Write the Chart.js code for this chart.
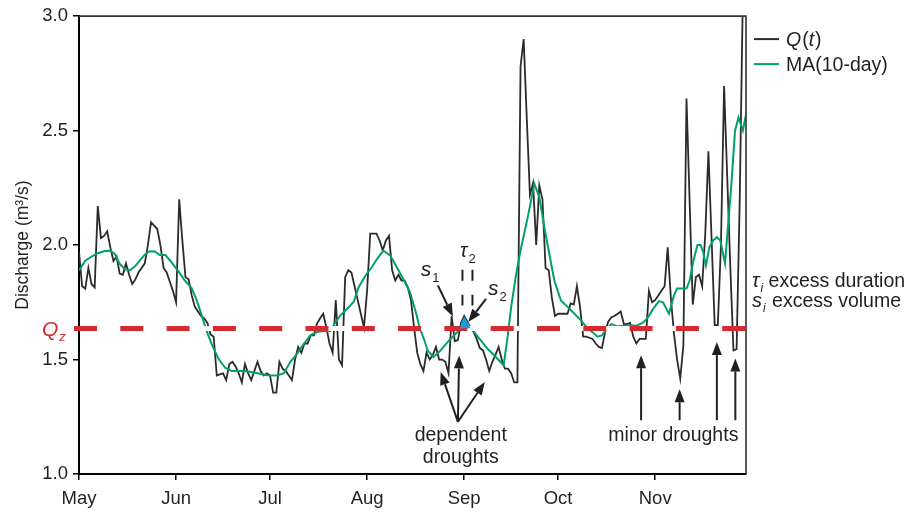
<!DOCTYPE html>
<html>
<head>
<meta charset="utf-8">
<style>
html,body{margin:0;padding:0;background:#fff;}
#wrap{width:912px;height:512px;position:relative;}
</style>
<script src="https://cdn.jsdelivr.net/npm/chart.js@4.4.1/dist/chart.umd.min.js"></script>
</head>
<body>
<div id="wrap"><canvas id="c" width="912" height="512"></canvas></div>
<script>
// ---------- DATA ----------
// Daily discharge Q(t), day 0 = 1 May ... day 213 = 30 Nov
const qValues = [
  1.97,1.82,1.81,1.90,1.83,1.815,2.17,2.03,2.04,2.06,
  1.99,1.93,1.95,1.875,1.87,1.92,1.87,1.83,1.85,1.88,
  1.90,1.92,2.00,2.10,2.085,2.07,2.00,1.90,1.88,1.84,
  1.80,1.75,2.20,2.02,1.86,1.85,1.78,1.73,1.71,1.69,
  1.68,1.66,1.61,1.60,1.43,1.435,1.44,1.41,1.48,1.49,
  1.47,1.44,1.40,1.48,1.44,1.41,1.45,1.49,1.45,1.43,
  1.44,1.43,1.355,1.355,1.49,1.46,1.45,1.43,1.41,1.50,
  1.555,1.53,1.57,1.57,1.606,1.606,1.657,1.68,1.70,1.64,
  1.57,1.53,1.76,1.50,1.475,1.86,1.89,1.88,1.82,1.76,
  1.70,1.64,1.80,2.05,2.05,2.05,2.02,1.976,2.02,2.04,
  1.89,1.845,1.87,1.845,1.845,1.816,1.76,1.64,1.53,1.48,
  1.45,1.53,1.50,1.52,1.555,1.50,1.50,1.49,1.44,1.69,
  1.58,1.585,1.66,1.69,1.665,1.638,1.62,1.59,1.55,1.54,
  1.50,1.45,1.49,1.52,1.555,1.50,1.46,1.46,1.44,1.40,
  1.40,2.78,2.90,2.55,2.22,2.27,2.00,2.26,2.20,1.90,
  1.89,1.77,1.69,1.70,1.70,1.70,1.70,1.745,1.74,1.82,
  1.73,1.60,1.60,1.595,1.59,1.57,1.555,1.55,1.62,1.665,
  1.685,1.69,1.70,1.71,1.655,1.655,1.66,1.60,1.57,1.59,
  1.59,1.59,1.80,1.75,1.76,1.78,1.80,1.82,1.99,1.77,
  1.613,1.50,1.417,1.56,2.64,2.19,1.74,1.86,1.87,1.82,
  2.05,2.41,2.03,1.65,1.65,2.00,2.695,2.30,1.90,1.54,
  1.545,2.20,3.10,3.20
];
const qDays = qValues.map((v, i) => i);

// 10-day moving average
const maDays = [0,2,4,6,8,10,11.5,13,14.6,16.2,17.8,19.4,21,22.6,24.2,25.8,27.6,29.5,31.7,33.8,
  35.9,37.2,38.3,39.7,40.7,42.3,44.5,46.6,48.7,51,53,55,57,60,63.3,65.4,67.5,69.7,71.8,73.9,
  76,78.2,80.3,81.9,83.5,85.6,87.7,89.3,91.5,93.5,95.2,97.2,99.4,101.5,103.5,105.7,107.7,108.7,110.3,111.3,
  113.2,115.5,117.7,119.8,121.9,124.1,126.2,128.3,130.4,133.1,135.6,136.7,138,139.6,141.2,143.3,145.4,147,148.6,150.2,
  151.8,153.9,156.1,158.2,160.3,162.5,164.6,165.5,167,168.5,170,172,174,176,178,180,181.5,183.3,185.2,186.5,
  188.4,190,191,193,194,195,196.2,197.5,198.5,199.3,200.2,201.3,202.5,203.7,204.8,206.3,207.3,208.3,209.5,210.6,
  212,213];
const maValues = [1.889,1.932,1.95,1.964,1.973,1.976,1.96,1.918,1.896,1.889,1.906,1.932,1.958,1.973,1.972,1.956,1.956,1.925,1.886,1.845,
  1.813,1.773,1.73,1.671,1.627,1.569,1.504,1.465,1.45,1.45,1.45,1.446,1.44,1.431,1.43,1.44,1.49,1.526,1.569,1.606,
  1.62,1.625,1.625,1.664,1.693,1.722,1.751,1.816,1.867,1.903,1.94,1.976,1.954,1.903,1.853,1.794,1.70,1.642,1.584,1.54,
  1.511,1.54,1.576,1.606,1.635,1.657,1.62,1.584,1.548,1.511,1.475,1.58,1.729,1.874,1.99,2.121,2.267,2.21,2.078,1.96,
  1.845,1.758,1.729,1.70,1.671,1.635,1.613,1.60,1.605,1.635,1.655,1.645,1.648,1.65,1.648,1.66,1.68,1.72,1.755,1.75,
  1.70,1.78,1.81,1.81,1.81,1.845,1.93,2.0,2.0,1.97,1.91,1.99,2.02,2.035,2.02,1.92,2.09,2.26,2.50,2.557,
  2.50,2.57];

const QZ = 1.635;                       // drought threshold Qz
const s2Days = [121,122,123,124,125,126]; // excess event s2 (days)
const monthTickDays = [0,31,61,92,123,153,184];
const monthLabels = ['May','Jun','Jul','Aug','Sep','Oct','Nov'];
const yTickValues = [1.0,1.5,2.0,2.5,3.0];

// ---------- STYLE ----------
const FONT = "'Liberation Sans', Arial, Helvetica, sans-serif";
const TXT = '#231f20';
const BLACK = '#2b2b2b';
const GREEN = '#00a06c';
const RED = '#d62a31';
const BLUE = '#1e9ad6';

const qPoints = qDays.map((d, i) => ({x: d, y: qValues[i]}));
const maPoints = maDays.map((d, i) => ({x: d, y: maValues[i]}));
const s2Points = s2Days.map(d => ({x: d, y: qValues[d]}));

function fnt(sz, it) { return (it ? 'italic ' : '') + sz + 'px ' + FONT; }

const annot = {
  id: 'annot',
  afterDatasetsDraw(chart) {
    const ctx = chart.ctx, ca = chart.chartArea;
    const xs = chart.scales.x, ys = chart.scales.y;
    const X = v => xs.getPixelForValue(v), Y = v => ys.getPixelForValue(v);
    ctx.save();
    // frame (top + right)
    ctx.strokeStyle = '#333'; ctx.lineWidth = 1.6;
    ctx.beginPath(); ctx.moveTo(ca.left, ca.top); ctx.lineTo(ca.right, ca.top); ctx.lineTo(ca.right, ca.bottom); ctx.stroke();

    ctx.fillStyle = TXT; ctx.strokeStyle = TXT;
    ctx.textBaseline = 'alphabetic'; ctx.textAlign = 'left';

    function sub(x, y, main, s, sz, ssz, mIt, sIt, dy, color) {
      ctx.fillStyle = color || TXT;
      ctx.font = fnt(sz, mIt); ctx.fillText(main, x, y);
      const w = ctx.measureText(main).width;
      ctx.font = fnt(ssz, sIt); ctx.fillText(s, x + w + 1, y + dy);
      return x + w + 1 + ctx.measureText(s).width;
    }
    function arrow(x1, y1, x2, y2) {
      const hl = 13, hw = 5;
      const a = Math.atan2(y2 - y1, x2 - x1);
      const bx = x2 - hl * Math.cos(a), by = y2 - hl * Math.sin(a);
      ctx.strokeStyle = TXT; ctx.fillStyle = TXT; ctx.lineWidth = 2; ctx.setLineDash([]);
      ctx.beginPath(); ctx.moveTo(x1, y1); ctx.lineTo(bx, by); ctx.stroke();
      ctx.beginPath(); ctx.moveTo(x2, y2);
      ctx.lineTo(bx + hw * Math.sin(a), by - hw * Math.cos(a));
      ctx.lineTo(bx - hw * Math.sin(a), by + hw * Math.cos(a));
      ctx.closePath(); ctx.fill();
    }

    // s1
    sub(X(109.1), Y(1.863), 's', '1', 21, 13, true, false, 6);
    arrow(X(114.6), Y(1.824), X(119.4), Y(1.688));
    // tau2
    sub(X(121.7), Y(1.946), 'τ', '2', 20, 13, true, false, 6);
    ctx.setLineDash([11, 14]); ctx.lineWidth = 2; ctx.strokeStyle = TXT;
    [122.45, 125.65].forEach(d => {
      ctx.beginPath(); ctx.moveTo(X(d), Y(1.892)); ctx.lineTo(X(d), Y(1.736)); ctx.stroke();
    });
    ctx.setLineDash([]);
    // s2
    sub(X(130.6), Y(1.784), 's', '2', 21, 13, true, false, 6);
    arrow(X(130.0), Y(1.765), X(124.3), Y(1.664));

    // dependent droughts
    const cx = X(121.0), cy = Y(1.228);
    arrow(cx, cy, X(115.5), Y(1.446));
    arrow(cx, cy, X(121.4), Y(1.518));
    arrow(cx, cy, X(129.6), Y(1.402));
    ctx.fillStyle = TXT; ctx.font = fnt(19.5, false); ctx.textAlign = 'center';
    ctx.fillText('dependent', X(121.9), Y(1.144));
    ctx.fillText('droughts', X(121.9), Y(1.144) + 22);
    // minor droughts
    [[179.5, 1.519], [191.8, 1.37], [203.7, 1.576], [209.6, 1.505]].forEach(p => {
      arrow(X(p[0]), Y(1.235), X(p[0]), Y(p[1]));
    });
    ctx.fillStyle = TXT; ctx.font = fnt(19.5, false); ctx.textAlign = 'center';
    ctx.fillText('minor droughts', X(189.8), Y(1.144));
    ctx.textAlign = 'left';

    // Qz label
    sub(ca.left - 37, Y(QZ) + 7, 'Q', 'z', 21, 13, true, true, 5, RED);

    // legend
    const lx = ca.right + 8;
    ctx.lineWidth = 2;
    ctx.strokeStyle = BLACK; ctx.beginPath(); ctx.moveTo(lx, ca.top + 23); ctx.lineTo(lx + 25, ca.top + 23); ctx.stroke();
    ctx.strokeStyle = GREEN; ctx.beginPath(); ctx.moveTo(lx, ca.top + 48); ctx.lineTo(lx + 25, ca.top + 48); ctx.stroke();
    ctx.fillStyle = TXT;
    let tx = lx + 32, ty = ca.top + 30;
    [['Q', true], ['(', false], ['t', true], [')', false]].forEach(p => {
      ctx.font = fnt(19.5, p[1]); ctx.fillText(p[0], tx, ty); tx += ctx.measureText(p[0]).width + (p[1] ? 1 : 0);
    });
    ctx.font = fnt(19.5, false); ctx.fillText('MA(10-day)', lx + 32, ca.top + 55);

    // excess definitions
    let e1 = sub(ca.right + 6, Y(1.815), 'τ', 'i', 20, 12, true, true, 5);
    ctx.font = fnt(19.5, false); ctx.fillText(' excess duration', e1, Y(1.815));
    let e2 = sub(ca.right + 6, Y(1.728), 's', 'i', 20, 12, true, true, 5);
    ctx.font = fnt(19.5, false); ctx.fillText(' excess volume', e2 + 1, Y(1.728));
    ctx.restore();
  }
};

new Chart(document.getElementById('c'), {
  type: 'line',
  data: {
    datasets: [
      { label: 's2', data: s2Points, borderWidth: 0, pointRadius: 0, borderColor: 'rgba(0,0,0,0)',
        fill: { value: QZ, above: BLUE, below: 'rgba(0,0,0,0)' }, clip: 0 },
      { label: 'Qz', data: [{x: -1.6, y: QZ}, {x: 213, y: QZ}], borderColor: RED, borderWidth: 5,
        borderDash: [23, 23.3], borderCapStyle: 'butt', pointRadius: 0, fill: false, clip: false },
      { label: 'gap', data: [{x: 0, y: QZ}, {x: 213, y: QZ}], borderColor: '#ffffff', borderWidth: 5,
        pointRadius: 0, fill: false, clip: 0 },
      { label: 'MA(10-day)', data: maPoints, borderColor: GREEN, borderWidth: 2, pointRadius: 0, fill: false, clip: 0 },
      { label: 'Q(t)', data: qPoints, borderColor: BLACK, borderWidth: 1.8, pointRadius: 0, fill: false, clip: 0 }
    ]
  },
  options: {
    responsive: false,
    animation: false,
    parsing: true,
    layout: { padding: { left: 0, right: 166, top: 15, bottom: 0 } },
    plugins: { legend: { display: false }, tooltip: { enabled: false } },
    scales: {
      x: {
        type: 'linear', min: 0, max: 213,
        afterBuildTicks: s => { s.ticks = monthTickDays.map(v => ({ value: v })); },
        afterFit: s => { s.height = 38; },
        ticks: {
          autoSkip: false, maxRotation: 0, padding: 8, color: TXT,
          font: { family: FONT, size: 18.5 },
          callback: v => monthLabels[monthTickDays.indexOf(v)]
        },
        grid: { display: true, drawOnChartArea: false, drawTicks: true, tickLength: 6, color: '#000', lineWidth: 1.5 },
        border: { display: true, color: '#000', width: 2 }
      },
      y: {
        min: 1, max: 3,
        afterBuildTicks: s => { s.ticks = yTickValues.map(v => ({ value: v })); },
        afterFit: s => { s.width = 79; },
        ticks: {
          padding: 5, color: TXT, font: { family: FONT, size: 18.5 },
          callback: v => Number(v).toFixed(1)
        },
        title: { display: true, text: 'Discharge (m³/s)', color: TXT, font: { family: FONT, size: 17.5 }, padding: { top: 13, bottom: 0 } },
        grid: { display: true, drawOnChartArea: false, drawTicks: true, tickLength: 6, color: '#000', lineWidth: 1.5 },
        border: { display: true, color: '#000', width: 2 }
      }
    }
  },
  plugins: [annot]
});
</script>
</body>
</html>
